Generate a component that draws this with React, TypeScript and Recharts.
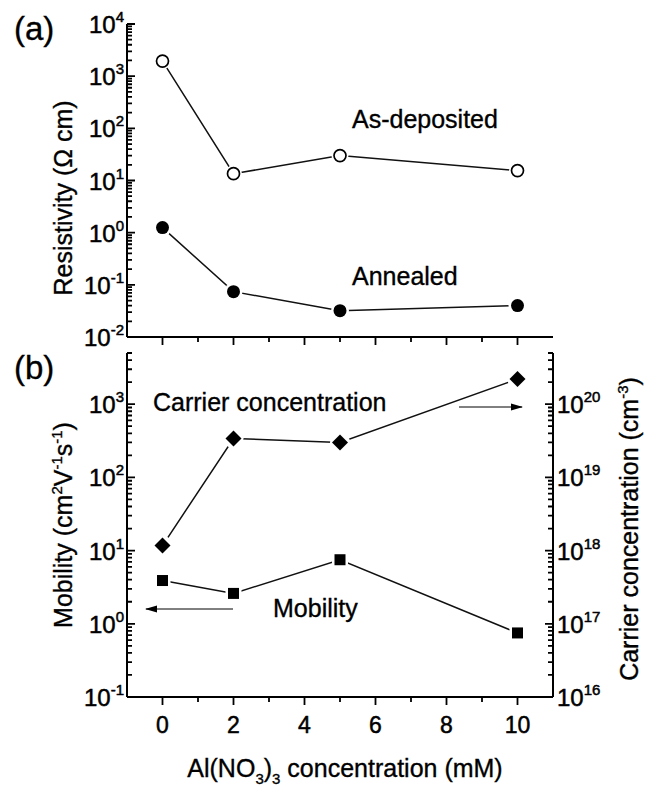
import { LineChart, Line, XAxis, YAxis } from "recharts";

const FONT = '"Liberation Sans", Arial, sans-serif';

// Al(NO3)3 concentration (mM)
const concentration = [0, 2, 5, 10];
// Resistivity (ohm cm)
const resistivityAsDeposited = [1950, 13.5, 30, 15.5];
const resistivityAnnealed = [1.25, 0.074, 0.032, 0.04];
// Mobility (cm2/Vs) and carrier concentration (cm-3)
const mobility = [3.9, 2.6, 7.5, 0.75];
const carrierConcentration = [1.17e18, 3.4e19, 3.0e19, 2.2e20];

const xTicks = [0, 1, 2, 3, 4, 5, 6, 7, 8, 9, 10];
const resistivityDecades = [0.01, 0.1, 1, 10, 100, 1000, 10000];
const mobilityDecades = [0.1, 1, 10, 100, 1000];
const carrierDecades = [1e16, 1e17, 1e18, 1e19, 1e20];
const minorSteps = [2, 3, 4, 5, 6, 7, 8, 9];

const withMinor = (decades: number[], max: number) =>
    decades
        .flatMap(d => [d, ...minorSteps.map(m => d * m)])
        .filter(v => v <= max * 1.0001);

const isDecade = (v: number) => Math.abs(Math.log10(v) - Math.round(Math.log10(v))) < 1e-6;
const expOf = (v: number) => {
    const e = Math.round(Math.log10(v));
    return e < 0 ? `-${-e}` : `${e}`;
};

const resistivityData = concentration.map((x, i) => ({
    x,
    asDeposited: resistivityAsDeposited[i],
    annealed: resistivityAnnealed[i]
}));

const electricalData = concentration.map((x, i) => ({
    x,
    mobility: mobility[i],
    carrier: carrierConcentration[i]
}));

// plot boxes (page px), same numbers as the chart margins/axis sizes below
const LEFT = 127;
const RIGHT = 553;
const A_TOP = 24;
const A_BOTTOM = 337;
const B_TOP = 353;
const B_BOTTOM = 697;
const X_MIN = -1;
const X_MAX = 11;

const px = (v: number) => LEFT + ((v - X_MIN) / (X_MAX - X_MIN)) * (RIGHT - LEFT);
const logPos = (v: number, lo: number, hi: number, top: number, bottom: number) =>
    bottom - ((Math.log10(v) - Math.log10(lo)) / (Math.log10(hi) - Math.log10(lo))) * (bottom - top);

const TXT = { fill: "#000", fontFamily: FONT, stroke: "#000", strokeWidth: 0.5 };

const leftLogLabel = (props: any) => {
    const { x, y, payload } = props;
    if (!isDecade(payload.value)) return <g />;
    return (
        <text x={x - 3} y={y + 9} textAnchor="end" fontSize={24} {...TXT}>
            10<tspan dy={-11} fontSize={15}>{expOf(payload.value)}</tspan>
        </text>
    );
};

const rightLogLabel = (props: any) => {
    const { x, y, payload } = props;
    if (!isDecade(payload.value)) return <g />;
    return (
        <text x={x + 4} y={y + 9} textAnchor="start" fontSize={24} {...TXT}>
            10<tspan dy={-11} fontSize={15}>{expOf(payload.value)}</tspan>
        </text>
    );
};

const xLabel = (props: any) => {
    const { x, y, payload } = props;
    if (payload.value % 2 !== 0) return <g />;
    return (
        <text x={x} y={y + 36} textAnchor="middle" fontSize={23} {...TXT}>
            {payload.value}
        </text>
    );
};

const OpenCircle = (p: any) => (
    <g key={`oc-${p.index}`}>
        <circle cx={p.cx} cy={p.cy} r={8.5} fill="#fff" />
        <circle cx={p.cx} cy={p.cy} r={6} fill="#fff" stroke="#000" strokeWidth={1.7} />
    </g>
);

const FilledCircle = (p: any) => (
    <g key={`fc-${p.index}`}>
        <circle cx={p.cx} cy={p.cy} r={9} fill="#fff" />
        <circle cx={p.cx} cy={p.cy} r={6.5} fill="#000" />
    </g>
);

const Diamond = (p: any) => {
    const s = 8;
    return (
        <g key={`di-${p.index}`}>
            <circle cx={p.cx} cy={p.cy} r={10} fill="#fff" />
            <polygon
                points={`${p.cx},${p.cy - s} ${p.cx + s},${p.cy} ${p.cx},${p.cy + s} ${p.cx - s},${p.cy}`}
                fill="#000"
            />
        </g>
    );
};

const Square = (p: any) => {
    const h = 5.5;
    return (
        <g key={`sq-${p.index}`}>
            <rect x={p.cx - h - 2.5} y={p.cy - h - 2.5} width={2 * h + 5} height={2 * h + 5} fill="#fff" />
            <rect x={p.cx - h} y={p.cy - h} width={2 * h} height={2 * h} fill="#000" />
        </g>
    );
};

const axisLine = { stroke: "#000", strokeWidth: 2 };

// tick marks: inward on the y axes, outward below the x axes, minor ones shorter
const tickPath = () => {
    let d = "";
    withMinor(resistivityDecades, 10000).forEach(v => {
        const y = logPos(v, 0.01, 10000, A_TOP, A_BOTTOM);
        d += `M${LEFT},${y}h${isDecade(v) ? 8 : 5}`;
    });
    withMinor(mobilityDecades, 5000).forEach(v => {
        const y = logPos(v, 0.1, 5000, B_TOP, B_BOTTOM);
        d += `M${LEFT},${y}h${isDecade(v) ? 8 : 5}`;
    });
    withMinor(carrierDecades, 5e20).forEach(v => {
        const y = logPos(v, 1e16, 5e20, B_TOP, B_BOTTOM);
        d += `M${RIGHT},${y}h${isDecade(v) ? -8 : -5}`;
    });
    xTicks.forEach(v => {
        const len = v % 2 === 0 ? 8 : 5;
        d += `M${px(v)},${A_BOTTOM}v${len}M${px(v)},${B_BOTTOM}v${len}`;
    });
    return d;
};

export default function App() {
    return (
        <div style={{ position: "absolute", left: 0, top: 0, width: 648, height: 787, background: "#fff" }}>
            {/* (a) resistivity */}
            <div style={{ position: "absolute", left: 0, top: 0 }}>
                <LineChart width={648} height={360} data={resistivityData} margin={{ top: A_TOP, right: 648 - RIGHT, bottom: 0, left: 0 }}>
                    <XAxis
                        dataKey="x"
                        type="number"
                        domain={[X_MIN, X_MAX]}
                        ticks={xTicks}
                        interval={0}
                        height={360 - A_BOTTOM}
                        tickLine={false}
                        axisLine={axisLine}
                        tick={false}
                    />
                    <XAxis xAxisId="top" orientation="top" type="number" domain={[X_MIN, X_MAX]} height={0} tick={false} tickLine={false} axisLine={axisLine} />
                    <YAxis
                        scale="log"
                        type="number"
                        domain={[0.01, 10000]}
                        allowDataOverflow
                        ticks={resistivityDecades}
                        interval={0}
                        width={LEFT}
                        tickSize={0}
                        tickMargin={0}
                        tickLine={false}
                        axisLine={axisLine}
                        tick={leftLogLabel}
                    />
                    <YAxis yAxisId="frame" orientation="right" type="number" domain={[0, 1]} width={0} tick={false} tickLine={false} axisLine={axisLine} />
                    <Line dataKey="asDeposited" type="linear" stroke="#111" strokeWidth={1.5} dot={OpenCircle} isAnimationActive={false} />
                    <Line dataKey="annealed" type="linear" stroke="#111" strokeWidth={1.5} dot={FilledCircle} isAnimationActive={false} />
                </LineChart>
            </div>

            {/* (b) mobility and carrier concentration */}
            <div style={{ position: "absolute", left: 0, top: 345 }}>
                <LineChart width={648} height={442} data={electricalData} margin={{ top: B_TOP - 345, right: 0, bottom: 0, left: 0 }}>
                    <XAxis
                        dataKey="x"
                        type="number"
                        domain={[X_MIN, X_MAX]}
                        ticks={xTicks}
                        interval={0}
                        height={345 + 442 - B_BOTTOM}
                        tickSize={0}
                        tickMargin={0}
                        tickLine={false}
                        axisLine={axisLine}
                        tick={xLabel}
                    />
                    <XAxis xAxisId="top" orientation="top" type="number" domain={[X_MIN, X_MAX]} height={0} tick={false} tickLine={false} axisLine={axisLine} />
                    <YAxis
                        yAxisId="left"
                        scale="log"
                        type="number"
                        domain={[0.1, 5000]}
                        allowDataOverflow
                        ticks={mobilityDecades}
                        interval={0}
                        width={LEFT}
                        tickSize={0}
                        tickMargin={0}
                        tickLine={false}
                        axisLine={axisLine}
                        tick={leftLogLabel}
                    />
                    <YAxis
                        yAxisId="right"
                        orientation="right"
                        scale="log"
                        type="number"
                        domain={[1e16, 5e20]}
                        allowDataOverflow
                        ticks={carrierDecades}
                        interval={0}
                        width={648 - RIGHT}
                        tickSize={0}
                        tickMargin={0}
                        tickLine={false}
                        axisLine={axisLine}
                        tick={rightLogLabel}
                    />
                    <Line yAxisId="right" dataKey="carrier" type="linear" stroke="#111" strokeWidth={1.5} dot={Diamond} isAnimationActive={false} />
                    <Line yAxisId="left" dataKey="mobility" type="linear" stroke="#111" strokeWidth={1.5} dot={Square} isAnimationActive={false} />
                </LineChart>
            </div>

            {/* ticks, titles and annotations */}
            <svg width={648} height={787} style={{ position: "absolute", left: 0, top: 0, pointerEvents: "none" }} fontFamily={FONT} fill="#000" stroke="#000" strokeWidth={0.35}>
                <defs>
                    <marker id="arrowHead" markerWidth="12" markerHeight="8" refX="11" refY="4" orient="auto" markerUnits="userSpaceOnUse">
                        <path d="M0,0.5 L12,4 L0,7.5 Z" fill="#000" stroke="none" />
                    </marker>
                </defs>
                <path d={tickPath()} fill="none" stroke="#000" strokeWidth={1.8} />

                <text x={14} y={40} fontSize={33}>(a)</text>
                <text x={14} y={379} fontSize={33}>(b)</text>

                <text transform="rotate(-90 72 198)" x={72} y={198} textAnchor="middle" fontSize={25}>
                    Resistivity (Ω cm)
                </text>
                <text transform="rotate(-90 72 525)" x={72} y={525} textAnchor="middle" fontSize={25}>
                    Mobility (cm<tspan dy={-10} fontSize={15}>2</tspan><tspan dy={10}>V</tspan>
                    <tspan dy={-10} fontSize={15}>-1</tspan><tspan dy={10}>s</tspan>
                    <tspan dy={-10} fontSize={15}>-1</tspan><tspan dy={10}>)</tspan>
                </text>
                <text transform="rotate(-90 638 529)" x={638} y={529} textAnchor="middle" fontSize={25}>
                    Carrier concentration (cm<tspan dy={-10} fontSize={15}>-3</tspan><tspan dy={10}>)</tspan>
                </text>
                <text x={345} y={777} textAnchor="middle" fontSize={25}>
                    Al(NO<tspan dy={7} fontSize={15}>3</tspan><tspan dy={-7}>)</tspan>
                    <tspan dy={7} fontSize={15}>3</tspan><tspan dy={-7}> concentration (mM)</tspan>
                </text>

                <text x={352} y={128} fontSize={25}>As-deposited</text>
                <text x={352} y={285} fontSize={25}>Annealed</text>
                <text x={153} y={411} fontSize={25}>Carrier concentration</text>
                <text x={273} y={617} fontSize={25}>Mobility</text>

                <line x1={459} y1={407} x2={522} y2={407} strokeWidth={1} markerEnd="url(#arrowHead)" />
                <line x1={233} y1={609} x2={146} y2={609} strokeWidth={1} markerEnd="url(#arrowHead)" />
            </svg>
        </div>
    );
}
